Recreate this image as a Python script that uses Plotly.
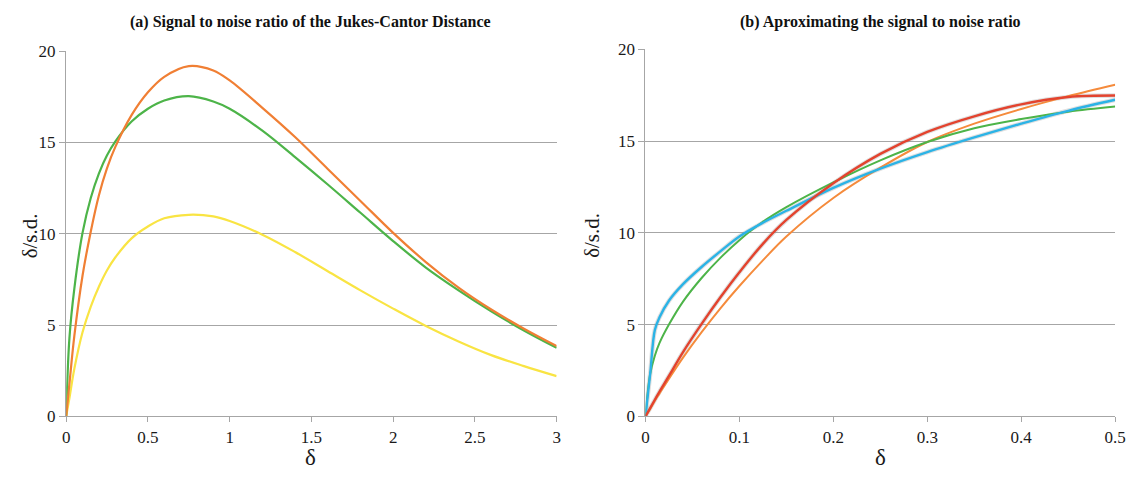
import plotly.graph_objects as go

# ---------------- data ----------------
# (a) Signal to noise ratio of the Jukes-Cantor distance
left_x = [0, 0.02, 0.05, 0.1, 0.15, 0.2, 0.25, 0.3, 0.4, 0.5, 0.6, 0.75, 0.9, 1.0,
          1.2, 1.4, 1.6, 1.8, 2.0, 2.2, 2.4, 2.6, 2.8, 3.0]
left_orange = [0, 1.8, 4.4, 7.7, 10.1, 12.1, 13.6, 14.75, 16.5, 17.75, 18.6, 19.19, 18.95, 18.4,
               16.9, 15.3, 13.55, 11.8, 10.05, 8.45, 7.05, 5.85, 4.8, 3.85]
left_green = [0, 4.3, 7.0, 10.05, 11.95, 13.3, 14.3, 15.05, 16.15, 16.85, 17.3, 17.54, 17.25, 16.85,
              15.65, 14.2, 12.7, 11.15, 9.6, 8.15, 6.9, 5.75, 4.7, 3.75]
left_yellow = [0, 1.0, 2.6, 4.6, 6.0, 7.1, 8.0, 8.7, 9.75, 10.4, 10.85, 11.04, 10.95, 10.7,
               9.95, 9.0, 7.95, 6.9, 5.9, 4.95, 4.1, 3.35, 2.75, 2.2]

# (b) Approximating the signal to noise ratio
right_x = [0, 0.005, 0.01, 0.015, 0.025, 0.04, 0.06, 0.08, 0.1, 0.125, 0.15,
           0.2, 0.25, 0.3, 0.35, 0.4, 0.45, 0.5]
right_cyan = [0, 2.3, 4.7, 5.4, 6.3, 7.2, 8.15, 9.0, 9.8, 10.55, 11.2,
              12.45, 13.5, 14.4, 15.2, 15.95, 16.65, 17.25]
right_green = [0, 2.3, 3.3, 4.0, 5.0, 6.25, 7.55, 8.65, 9.6, 10.6, 11.4,
               12.75, 13.95, 14.95, 15.7, 16.2, 16.6, 16.88]
right_red = [0, 0.45, 0.9, 1.35, 2.2, 3.5, 5.05, 6.5, 7.85, 9.4, 10.7,
             12.7, 14.3, 15.5, 16.35, 17.0, 17.4, 17.48]
right_orange = [0, 0.4, 0.85, 1.25, 2.05, 3.2, 4.6, 5.9, 7.1, 8.5, 9.8,
                11.9, 13.55, 14.95, 15.95, 16.75, 17.45, 18.07]

left_xticks = [0, 0.5, 1, 1.5, 2, 2.5, 3]
left_xticklabels = ["0", "0.5", "1", "1.5", "2", "2.5", "3"]
right_xticks = [0, 0.1, 0.2, 0.3, 0.4, 0.5]
right_xticklabels = ["0", "0.1", "0.2", "0.3", "0.4", "0.5"]
yticks = [0, 5, 10, 15, 20]

title_a = "(a) Signal to noise ratio of the Jukes-Cantor Distance"
title_b = "(b) Aproximating the signal to noise ratio"
x_title = "δ"
y_title = "δ/s.d."

# ---------------- style ----------------
ORANGE = "#F07F34"
GREEN = "#4DB449"
YELLOW = "#F9E443"
CYAN = "#2BB3E6"
RED = "#E3432E"
ORANGE_R = "#F58B3C"
GRID = "#A6A6A6"
FONT = "Liberation Serif"

W, H = 1140, 482
def px(v):
    return v / W
def py(v):
    return (H - v) / H

fig = go.Figure()

def line(x, y, color, xa, ya, width=2.2, opacity=1.0):
    fig.add_trace(go.Scatter(x=x, y=y, mode="lines", xaxis=xa, yaxis=ya,
                             line=dict(color=color, width=width, shape="spline", smoothing=1.0),
                             opacity=opacity, hoverinfo="skip", showlegend=False))

# left panel
line(left_x, left_yellow, YELLOW, "x", "y")
line(left_x, left_green, GREEN, "x", "y")
line(left_x, left_orange, ORANGE, "x", "y")

# right panel (soft shadows under cyan and red)
line(right_x, right_cyan, "rgba(140,140,140,0.28)", "x2", "y2", width=4.5)
line(right_x, right_red, "rgba(140,140,140,0.28)", "x2", "y2", width=4.5)
line(right_x, right_orange, ORANGE_R, "x2", "y2", width=2)
line(right_x, right_green, GREEN, "x2", "y2", width=2)
line(right_x, right_cyan, CYAN, "x2", "y2", width=2.4)
line(right_x, right_red, RED, "x2", "y2", width=2.4)

tickfont = dict(family=FONT, size=17, color="#1a1a1a")

def xaxis(domain, rng, tv, tt, anchor):
    return dict(domain=domain, range=rng, tickvals=tv, ticktext=tt, anchor=anchor,
                showline=True, linecolor=GRID, linewidth=1.3, showgrid=False,
                ticks="outside", ticklen=5, tickcolor=GRID, tickwidth=1.3,
                tickfont=tickfont, zeroline=False, fixedrange=True)

def yaxis(domain, anchor):
    return dict(domain=domain, range=[0, 20], tickvals=yticks, anchor=anchor,
                showline=True, linecolor=GRID, linewidth=1.3,
                showgrid=True, gridcolor=GRID, gridwidth=1.3,
                ticks="outside", ticklen=6, tickcolor=GRID, tickwidth=1.3,
                tickfont=tickfont, zeroline=False, fixedrange=True)

fig.update_layout(
    width=W, height=H,
    margin=dict(l=0, r=0, t=0, b=0),
    paper_bgcolor="white", plot_bgcolor="white",
    showlegend=False,
    xaxis=xaxis([px(63), px(560)], [0, 3], left_xticks, left_xticklabels, "y"),
    yaxis=yaxis([py(424), py(44)], "x"),
    xaxis2=xaxis([px(650), px(1126)], [0, 0.5], right_xticks, right_xticklabels, "y2"),
    yaxis2=yaxis([py(424), py(42)], "x2"),
)

ann_font_title = dict(family=FONT, size=16, color="#111111")
ann_font_axis = dict(family=FONT, size=23, color="#1a1a1a")
fig.add_annotation(x=px(311), y=py(14), xref="paper", yref="paper", text="<b>" + title_a + "</b>",
                   showarrow=False, font=ann_font_title, xanchor="center", yanchor="middle")
fig.add_annotation(x=px(888), y=py(14), xref="paper", yref="paper", text="<b>" + title_b + "</b>",
                   showarrow=False, font=ann_font_title, xanchor="center", yanchor="middle")
fig.add_annotation(x=px(311), y=py(467), xref="paper", yref="paper", text=x_title,
                   showarrow=False, font=ann_font_axis, xanchor="center", yanchor="middle")
fig.add_annotation(x=px(888), y=py(467), xref="paper", yref="paper", text=x_title,
                   showarrow=False, font=ann_font_axis, xanchor="center", yanchor="middle")
fig.add_annotation(x=px(26), y=py(236), xref="paper", yref="paper", text=y_title, textangle=-90,
                   showarrow=False, font=dict(family=FONT, size=21, color="#1a1a1a"),
                   xanchor="center", yanchor="middle")
fig.add_annotation(x=px(596), y=py(236), xref="paper", yref="paper", text=y_title, textangle=-90,
                   showarrow=False, font=dict(family=FONT, size=21, color="#1a1a1a"),
                   xanchor="center", yanchor="middle")

fig.write_html("out.html")
